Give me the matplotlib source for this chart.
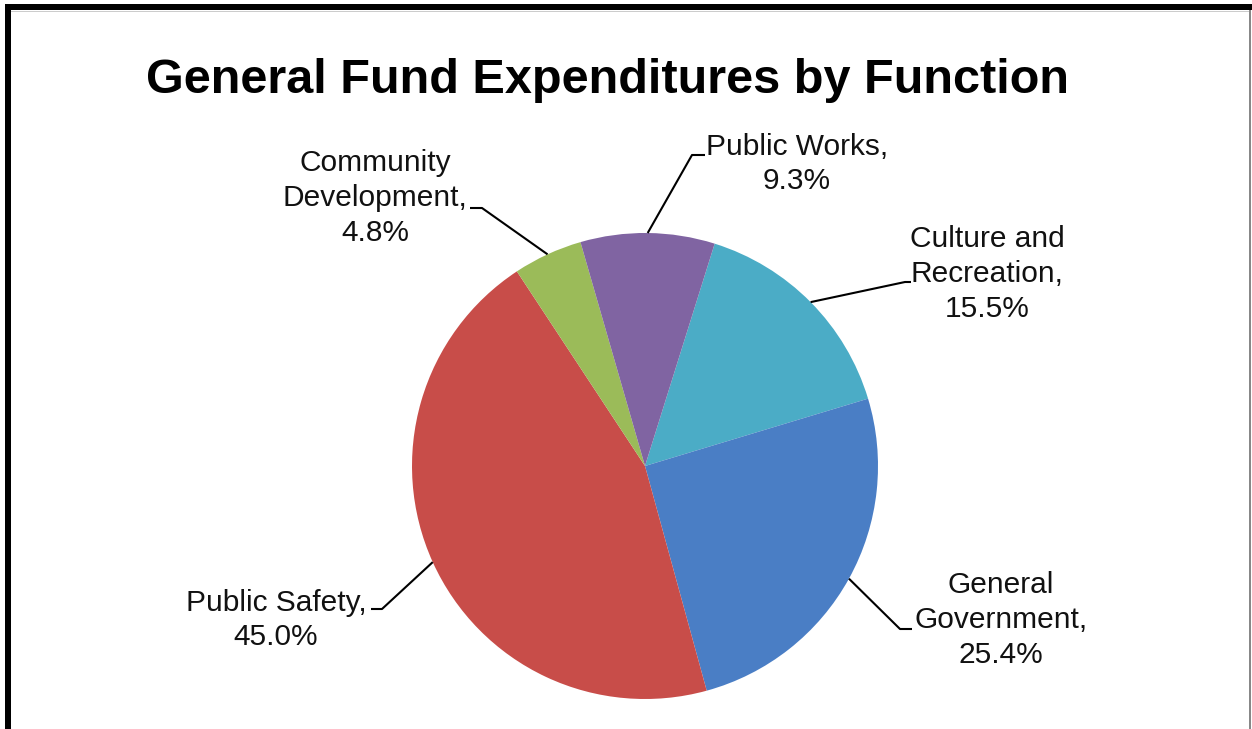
import numpy as np
import matplotlib
matplotlib.use("Agg")
import matplotlib.pyplot as plt
from matplotlib.patches import Rectangle

# Data (clockwise from the top right)
categories = ["Culture and\nRecreation,", "General\nGovernment,", "Public Safety,",
              "Community\nDevelopment,", "Public Works,"]
shares = [15.5, 25.4, 45.0, 4.8, 9.3]
colors = ["#4BACC6", "#4A7EC5", "#C84D49", "#9BBB59", "#8064A2"]

# Layout in pixel units (y measured from the top of the image)
W, H = 1252, 729
cx, cy, rad = 645, 466, 233
label_pos = [(987, 274), (1001, 620), (276, 620), (375, 198), (797, 164)]
elbows = [[(905, 282), (911, 282)],
          [(900, 629), (912, 629)],
          [(382, 609), (371, 609)],
          [(482, 208), (470, 208)],
          [(692, 155), (705, 155)]]

plt.rcParams['font.family'] = ['Liberation Sans', 'DejaVu Sans']

fig = plt.figure(figsize=(W / 100, H / 100), dpi=100)
ax = fig.add_axes([0, 0, 1, 1])

wedges, _ = ax.pie(shares, colors=colors, startangle=72.6, counterclock=False,
                   center=(cx, H - cy), radius=rad, wedgeprops=dict(linewidth=0))
ax.set_xlim(0, W)
ax.set_ylim(0, H)
ax.set_aspect('equal')
ax.axis('off')

# Labels with leader lines
for w, cat, val, (lx, ly), elb in zip(wedges, categories, shares, label_pos, elbows):
    mid = np.deg2rad((w.theta1 + w.theta2) / 2)
    ax_ = cx + rad * np.cos(mid)
    ay_ = (H - cy) + rad * np.sin(mid)
    xs = [ax_] + [p[0] for p in elb]
    ys = [ay_] + [H - p[1] for p in elb]
    ax.plot(xs, ys, color='black', lw=1.5, solid_capstyle='butt')
    ax.text(lx, H - ly, f"{cat}\n{val:.1f}%", ha='center', va='center',
            fontsize=21.5, linespacing=1.3, color='#111111')

# Title
ax.text(608, H - 93, "General Fund Expenditures by Function", ha='center', va='baseline',
        fontsize=35, fontweight='bold', color='black')

# Frame as in the screenshot
ax.add_patch(Rectangle((5, 0), 6, H - 4, color='black', lw=0))
ax.add_patch(Rectangle((5, H - 10), W - 5, 6, color='black', lw=0))
ax.add_patch(Rectangle((W - 3, 0), 1.5, H - 10, color='#888888', lw=0))
ax.add_patch(Rectangle((11, H - 12), W - 14, 1.2, color='#cccccc', lw=0))

fig.savefig("out.png", dpi=100)
